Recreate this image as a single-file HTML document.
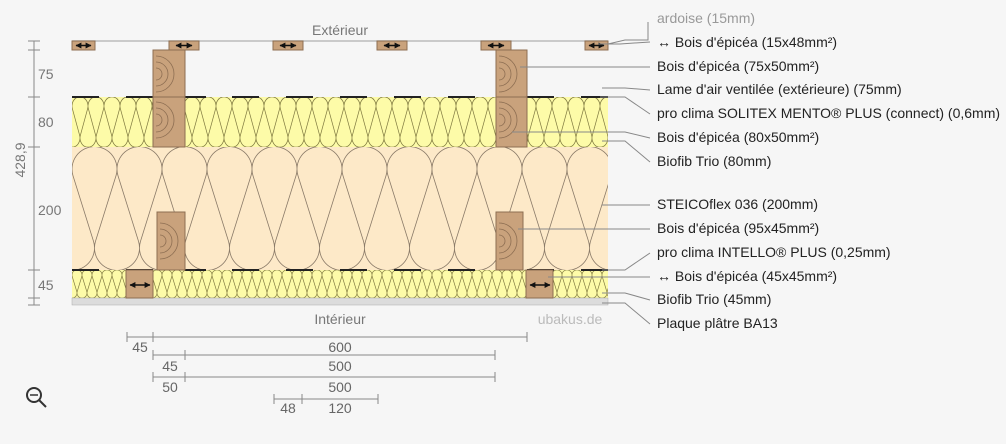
<!DOCTYPE html><html><head><style>body{margin:0;background:#f6f6f6}svg{display:block;font-family:"Liberation Sans",sans-serif}</style></head><body>
<svg width="1006" height="444" viewBox="0 0 1006 444">
<defs>
<g id="tp">
<path d="M1,28.7 A22.5,22.5 0 1 1 44,28.7 L23.5,94.3 A22.5,22.5 0 1 0 66.5,94.3 M1,28.7 L21.5,94.3 A22.5,22.5 0 1 1 -21.5,94.3 M-21.5,94.3 A22.5,22.5 0 1 0 21.5,94.3 M45,0 M46,28.7 L66.5,94.3" fill="none"/>
</g>
<pattern id="st" x="72" y="147" width="45" height="123" patternUnits="userSpaceOnUse">
<rect width="45" height="123" fill="#fde9c8"/>
<use href="#tp" stroke="#8a7a68" stroke-width="0.8"/>
</pattern>
<pattern id="bf" x="72" y="97" width="16" height="50" patternUnits="userSpaceOnUse">
<rect width="16" height="50" fill="#fdfba8"/>
<g transform="scale(0.3556,0.4065)"><use href="#tp" stroke="#807a40" stroke-width="2"/></g>
</pattern>
<pattern id="bf2" x="72" y="270" width="10" height="28" patternUnits="userSpaceOnUse">
<rect width="10" height="28" fill="#fdfba8"/>
<g transform="scale(0.2222,0.2276)"><use href="#tp" stroke="#807a40" stroke-width="3"/></g>
</pattern>
<marker id="ah" viewBox="0 0 10 10" refX="9" refY="5" markerWidth="4" markerHeight="4" orient="auto-start-reverse"><path d="M0,0L10,5L0,10z" fill="#111"/></marker>
</defs>
<text x="340" y="35" font-size="14" fill="#777" text-anchor="middle">Extérieur</text>
<line x1="72" y1="41" x2="608" y2="41" stroke="#bbb" stroke-width="1.5"/>
<rect x="72" y="97" width="536" height="50" fill="url(#bf)"/>
<rect x="72" y="147" width="536" height="123" fill="url(#st)"/>
<rect x="72" y="270" width="536" height="28" fill="url(#bf2)"/>
<rect x="72" y="298" width="536" height="7" fill="#dcdcdc" stroke="#aaa" stroke-width="0.5"/>
<g stroke="#222" stroke-width="2">
<path d="M72,97h27M126,97h27M185,97h21M232,97h27M286,97h27M340,97h27M394,97h27M448,97h27M527,97h27M581,97h27"/>
<path d="M72,270h27M126,270h27M185,270h21M232,270h27M286,270h27M340,270h27M394,270h27M448,270h27M527,270h27M581,270h27"/>
</g>
<g fill="#c9a27c" stroke="#8d6e52" stroke-width="1">
<rect x="153" y="50" width="32" height="47"/><rect x="153" y="97" width="32" height="50"/>
<rect x="496" y="50" width="31" height="47"/><rect x="496" y="97" width="31" height="50"/>
<rect x="157" y="212" width="28" height="58"/><rect x="496" y="212" width="27" height="58"/>
<rect x="126" y="270" width="27" height="28"/><rect x="526" y="270" width="27" height="28"/>
<rect x="72" y="41" width="23" height="9"/><rect x="169" y="41" width="30" height="9"/><rect x="273" y="41" width="30" height="9"/><rect x="377" y="41" width="30" height="9"/><rect x="481" y="41" width="30" height="9"/><rect x="585" y="41" width="23" height="9"/>
</g>
<g fill="none" stroke="#8d6e52" stroke-width="0.8">
<path d="M156,62a12,12 0 0 1 0,24M156,56a18,18 0 0 1 0,36M156,68a6,6 0 0 1 0,12"/>
<path d="M156,108a12,12 0 0 1 0,24M156,102a18,18 0 0 1 0,36M156,114a6,6 0 0 1 0,12"/>
<path d="M499,62a12,12 0 0 1 0,24M499,56a18,18 0 0 1 0,36M499,68a6,6 0 0 1 0,12"/>
<path d="M499,108a12,12 0 0 1 0,24M499,102a18,18 0 0 1 0,36M499,114a6,6 0 0 1 0,12"/>
<path d="M160,229a12,12 0 0 1 0,24M160,223a18,18 0 0 1 0,36M160,235a6,6 0 0 1 0,12"/>
<path d="M499,229a12,12 0 0 1 0,24M499,223a18,18 0 0 1 0,36M499,235a6,6 0 0 1 0,12"/>
</g>
<g stroke="#111" stroke-width="1.5" marker-start="url(#ah)" marker-end="url(#ah)">
<line x1="76" y1="45.5" x2="91" y2="45.5"/><line x1="176" y1="45.5" x2="192" y2="45.5"/><line x1="280" y1="45.5" x2="296" y2="45.5"/><line x1="384" y1="45.5" x2="400" y2="45.5"/><line x1="488" y1="45.5" x2="504" y2="45.5"/><line x1="589" y1="45.5" x2="604" y2="45.5"/>
<line x1="130" y1="285" x2="150" y2="285"/><line x1="530" y1="285" x2="550" y2="285"/>
</g>
<text x="340" y="324" font-size="14" fill="#777" text-anchor="middle">Intérieur</text>
<text x="570" y="324" font-size="14" fill="#bbb" text-anchor="middle">ubakus.de</text>
<g stroke="#888" stroke-width="1"><line x1="34" y1="41" x2="34" y2="305"/>
<path d="M28,41h12M28,50h12M28,97h12M28,147h12M28,270h12M28,298h12M28,305h12"/></g>
<g font-size="14" fill="#777"><text x="38" y="79">75</text><text x="38" y="127">80</text><text x="38" y="215">200</text><text x="38" y="290">45</text>
<text transform="translate(25,160) rotate(-90)" text-anchor="middle">428,9</text></g>
<g stroke="#888" stroke-width="1" fill="none">
<path d="M648,22V40H625L608,44"/>
<path d="M598,44H620L650,42"/>
<path d="M520,67H650"/>
<path d="M602,88H625L650,90"/>
<path d="M600,97H625L650,114"/>
<path d="M512,132H625L650,138"/>
<path d="M602,141H625L650,162"/>
<path d="M602,205H650"/>
<path d="M518,229H650"/>
<path d="M602,270H625L650,253"/>
<path d="M548,277H650"/>
<path d="M602,293H625L650,300"/>
<path d="M602,303H625L650,324"/>
</g>
<g font-size="14" fill="#222">
<text x="657" y="23" fill="#999">ardoise (15mm)</text>
<text x="657" y="47">↔ Bois d'épicéa (15x48mm²)</text>
<text x="657" y="71">Bois d'épicéa (75x50mm²)</text>
<text x="657" y="94">Lame d'air ventilée (extérieure) (75mm)</text>
<text x="657" y="118">pro clima SOLITEX MENTO® PLUS (connect) (0,6mm)</text>
<text x="657" y="142">Bois d'épicéa (80x50mm²)</text>
<text x="657" y="166">Biofib Trio (80mm)</text>
<text x="657" y="209">STEICOflex 036 (200mm)</text>
<text x="657" y="233">Bois d'épicéa (95x45mm²)</text>
<text x="657" y="257">pro clima INTELLO® PLUS (0,25mm)</text>
<text x="657" y="281">↔ Bois d'épicéa (45x45mm²)</text>
<text x="657" y="304">Biofib Trio (45mm)</text>
<text x="657" y="328">Plaque plâtre BA13</text>
</g>
<g stroke="#888" stroke-width="1">
<path d="M127,337H527M127,332v10M153,332v10M527,332v10"/>
<path d="M153,355H495M153,350v10M185,350v10M495,350v10"/>
<path d="M153,377H495M153,372v10M185,372v10M495,372v10"/>
<path d="M274,399H378M274,394v10M302,394v10M378,394v10"/>
</g>
<g font-size="14" fill="#666" text-anchor="middle">
<text x="140" y="352">45</text><text x="340" y="352">600</text>
<text x="170" y="371">45</text><text x="340" y="371">500</text>
<text x="170" y="392">50</text><text x="340" y="392">500</text>
<text x="288" y="413">48</text><text x="340" y="413">120</text>
</g>
<g stroke="#333" stroke-width="2" fill="none"><circle cx="34" cy="395" r="7"/><line x1="39" y1="400" x2="46" y2="407"/><line x1="30" y1="395" x2="38" y2="395" stroke-width="1.5"/></g>
</svg>
</body></html>
